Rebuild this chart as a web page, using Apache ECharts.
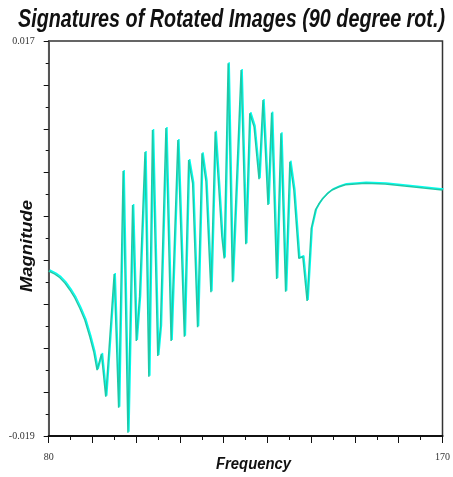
<!DOCTYPE html>
<html>
<head>
<meta charset="utf-8">
<style>
  html, body { margin: 0; padding: 0; background: #fff; }
  #chart { width: 453px; height: 477px; }
</style>
<script src="https://cdn.jsdelivr.net/npm/echarts@6/dist/echarts.min.js"></script>
</head>
<body>
<div id="chart"></div>
<script>
// Signature magnitude against frequency
const frequency = [
  80.0, 81.43, 82.57, 83.71, 84.85, 85.98, 87.12, 88.26, 89.40, 90.31,
  91.06, 92.06, 93.04, 94.97, 95.99, 97.02, 98.11, 99.18, 100.02, 100.77,
  102.02, 102.89, 103.73, 104.93, 105.55, 106.80, 107.98, 109.53, 111.01, 111.99,
  112.90, 114.03, 115.04, 115.95, 117.08, 118.06, 118.81, 119.58, 120.11, 121.02,
  122.00, 123.98, 125.05, 125.96, 126.94, 128.07, 128.98, 130.12, 130.96, 132.10,
  133.08, 134.15, 135.12, 136.03, 137.17, 138.08, 139.06, 140.01, 140.97, 141.72,
  142.47, 143.61, 144.75, 146.27, 147.80, 152.35, 156.90, 162.95, 170.0
];
const magnitude = [
  -0.00396, -0.00424, -0.00457, -0.00506, -0.00569, -0.00642, -0.00736, -0.00843, -0.00995, -0.01134,
  -0.01299, -0.01153, -0.01542, -0.00424, -0.01642, 0.00515, -0.01870, 0.00205, -0.01034, -0.00630,
  0.00688, -0.01360, 0.00889, -0.01171, -0.00898, 0.00907, -0.01034, 0.00798, -0.00995, 0.00615,
  0.00403, -0.00909, 0.00677, 0.00418, -0.00590, 0.00873, 0.00403, -0.00084, -0.00281, 0.01497,
  -0.00499, 0.01436, -0.00153, 0.01041, 0.00919, 0.00440, 0.01162, 0.00205, 0.01047, -0.00469,
  0.00859, -0.00585, 0.00600, 0.00342, -0.00281, -0.00266, -0.00670, -0.00007, 0.00160, 0.00214,
  0.00257, 0.00306, 0.00342, 0.00369, 0.00390, 0.00403, 0.00397, 0.00372, 0.00342
];
const xRange = [80, 170];
const yRange = [-0.019, 0.017];
const titleText = 'Signatures of Rotated Images (90 degree rot.)';
const xName = 'Frequency';
const yName = 'Magnitude';

const points = frequency.map((f, i) => [f, magnitude[i]]);

// Narrow bold-italic lettering: measure and squeeze to a target width
function squeeze(text, font, targetWidth) {
  const ctx = document.createElement('canvas').getContext('2d');
  ctx.font = font;
  const w = ctx.measureText(text).width;
  return w > 0 ? targetWidth / w : 1;
}
const titleFont = 'italic bold 25px "Liberation Sans", Arial, sans-serif';
const nameFont = 'italic bold 16px "Liberation Sans", Arial, sans-serif';

const near = (a, b) => Math.abs(a - b) < 1e-9;
const labelStyle = { fontFamily: '"Liberation Serif", "DejaVu Serif", serif', fontSize: 10, color: '#333' };

const chart = echarts.init(document.getElementById('chart'), null, { renderer: 'canvas' });
chart.setOption({
  animation: false,
  backgroundColor: '#fff',
  grid: {
    left: 48.7, right: 8.7, top: 41, bottom: 41,
    show: true, borderColor: '#333', borderWidth: 1.5, backgroundColor: 'transparent'
  },
  xAxis: {
    type: 'value', min: xRange[0], max: xRange[1], interval: 10,
    axisLine: { show: true, onZero: false, lineStyle: { color: '#111', width: 2 } },
    axisTick: { show: true, length: 7, lineStyle: { color: '#111', width: 1 } },
    minorTick: { show: true, splitNumber: 2, length: 4, lineStyle: { color: '#111', width: 1 } },
    splitLine: { show: false },
    minorSplitLine: { show: false },
    axisLabel: Object.assign({
      margin: 16,
      formatter: v => (near(v, xRange[0]) || near(v, xRange[1])) ? String(Math.round(v)) : ''
    }, labelStyle)
  },
  yAxis: {
    type: 'value', min: yRange[0], max: yRange[1], interval: 0.004,
    axisLine: { show: true, onZero: false, lineStyle: { color: '#555', width: 2 } },
    axisTick: { show: true, length: 5, lineStyle: { color: '#111', width: 1 } },
    minorTick: { show: true, splitNumber: 2, length: 3, lineStyle: { color: '#111', width: 1 } },
    splitLine: { show: false },
    minorSplitLine: { show: false },
    axisLabel: Object.assign({
      margin: 14,
      formatter: v => (near(v, yRange[0]) || near(v, yRange[1])) ? v.toFixed(3) : ''
    }, labelStyle)
  },
  series: [{
    type: 'line',
    data: points,
    symbol: 'none',
    smooth: false,
    lineStyle: {
      color: '#1fc8a6', width: 1.5,
      shadowColor: '#00fff0', shadowBlur: 0, shadowOffsetX: 1, shadowOffsetY: -1
    }
  }],
  graphic: [
    {
      type: 'text', x: 231.5, y: 20, scaleX: squeeze(titleText, titleFont, 427),
      style: { text: titleText, font: titleFont, fill: '#111', textAlign: 'center', textVerticalAlign: 'middle' }
    },
    {
      type: 'text', x: 253.5, y: 465, scaleX: squeeze(xName, nameFont, 75),
      style: { text: xName, font: nameFont, fill: '#111', textAlign: 'center', textVerticalAlign: 'middle' }
    },
    {
      type: 'text', x: 28, y: 246, rotation: Math.PI / 2, scaleX: squeeze(yName, nameFont, 92),
      style: { text: yName, font: nameFont, fill: '#111', textAlign: 'center', textVerticalAlign: 'middle' }
    }
  ]
});
</script>
</body>
</html>
